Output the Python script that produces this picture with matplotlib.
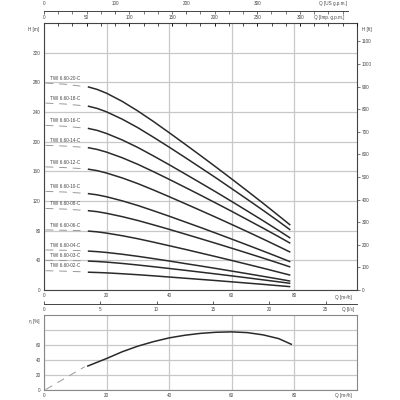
import matplotlib
matplotlib.use("Agg")
import matplotlib.pyplot as plt
from matplotlib.ticker import MultipleLocator, FixedLocator

plt.rcParams['font.family'] = ['Liberation Sans', 'DejaVu Sans']

# ---------------- data ----------------
q_pts = [14, 17, 20, 25, 30, 35, 40, 45, 50, 55, 60, 65, 70, 75, 78.7]
models = ["TWI 6.60-20-C", "TWI 6.60-18-C", "TWI 6.60-16-C", "TWI 6.60-14-C",
          "TWI 6.60-12-C", "TWI 6.60-10-C", "TWI 6.60-08-C", "TWI 6.60-06-C",
          "TWI 6.60-04-C", "TWI 6.60-03-C", "TWI 6.60-02-C"]
h_20 = [274, 270.4, 265.3, 254.3, 241.3, 227.1, 212.1, 196.8, 181.3, 165.6, 149.6, 133.4, 116.9, 100.1, 87.5]
h_18 = [248, 244.8, 240.2, 230.3, 218.8, 205.9, 192.6, 178.9, 165.0, 151.0, 136.6, 122.1, 107.4, 92.4, 81]
h_16 = [218, 215.2, 211, 202.3, 192.1, 180.7, 168.9, 156.7, 144.4, 132, 119.3, 106.4, 93.4, 80.1, 70]
h_14 = [192, 189.5, 185.9, 178.3, 169.4, 159.5, 149.2, 138.6, 127.9, 117, 106, 94.7, 83.4, 71.8, 63]
h_12 = [163, 160.9, 157.7, 151.1, 143.4, 134.8, 125.8, 116.6, 107.3, 97.9, 88.3, 78.6, 68.7, 58.6, 51]
h_10 = [130, 128.3, 125.7, 120.2, 113.9, 106.8, 99.5, 91.9, 84.3, 76.5, 68.6, 60.6, 52.5, 44.3, 38]
h_08 = [107, 105.6, 103.4, 98.9, 93.7, 87.8, 81.8, 75.5, 69.2, 62.8, 56.3, 49.7, 43, 36.2, 31]
h_06 = [79.5, 78.4, 76.7, 73.2, 69.1, 64.5, 59.7, 54.9, 49.9, 44.9, 39.8, 34.6, 29.4, 24, 20]
h_04 = [52.5, 51.7, 50.6, 48.2, 45.4, 42.3, 39.1, 35.7, 32.4, 29, 25.5, 22, 18.4, 14.8, 12]
h_03 = [39, 38.4, 37.6, 35.8, 33.7, 31.4, 29, 26.6, 24.1, 21.6, 19, 16.4, 13.7, 11, 9]
h_02 = [24, 23.6, 23.1, 21.9, 20.6, 19.1, 17.5, 15.9, 14.3, 12.7, 11, 9.3, 7.6, 5.8, 4.5]
h_curves = [h_20, h_18, h_16, h_14, h_12, h_10, h_08, h_06, h_04, h_03, h_02]
h_shutoff = [279, 252, 222, 195, 166, 133, 110, 81, 54, 40, 26]

eff_q = [14, 20, 25, 30, 35, 40, 45, 50, 55, 60, 65, 70, 75, 79]
eff_v = [32, 42, 51, 58.5, 64.5, 69.5, 73, 75.5, 77, 77.5, 76.5, 73.5, 68.5, 61]
eff_ext_q = [0.5, 13]
eff_ext_v = [0.5, 31]

x_ticks = [0, 20, 40, 60, 80]
h_ticks = [0, 40, 80, 120, 160, 200, 240, 280, 320]
ft_ticks = [0, 100, 200, 300, 400, 500, 600, 700, 800, 900, 1000, 1100]
us_ticks = [0, 100, 200, 300]
imp_ticks = [0, 50, 100, 150, 200, 250, 300]
ls_ticks = [0, 5, 10, 15, 20, 25]
eff_ticks = [0, 20, 40, 60, 80]
eff_labels = ["0", "20", "40", "60", ""]

# ---------------- style ----------------
FS = 3.3
TC = '#444444'
GRID = '#c8c8c8'
SP = '#444444'
CURVE = '#2a2a2a'

fig = plt.figure(figsize=(4, 4), dpi=100)
L, W = 44/400, (357-44)/400

def fy(px):
    return 1 - px/400

ax = fig.add_axes([L, fy(290), W, fy(23) - fy(290)])
ax.set_xlim(0, 100)
ax.set_ylim(0, 360)
ax.set_xticks(x_ticks)
ax.set_yticks(h_ticks)
ax.grid(True, color=GRID, lw=0.9)
ax.set_axisbelow(True)
ax.tick_params(axis='both', length=0, labelsize=FS, colors=TC, pad=2.5)
for s in ax.spines.values():
    s.set_color(SP)
    s.set_linewidth(0.8)

for name, h, h0 in zip(models, h_curves, h_shutoff):
    ax.plot(q_pts, h, color=CURVE, lw=1.1, solid_capstyle='butt',
            solid_joinstyle='round')
    ax.plot([0.5, 6.5, 12.5], [h0, h0 - 0.3*(h0 - h[0]), h[0] + 0.5],
            color='#999999', lw=0.7, ls=(0, (8, 6)))
    ax.text(1.8, h0 + 6.5, name, fontsize=FS, color=TC, ha='left', va='center')

# right axis (ft)
axr = ax.twinx()
axr.set_ylim(0, 360*3.28084)
axr.set_yticks(ft_ticks)
axr.tick_params(axis='y', length=2, width=0.5, direction='out', labelsize=FS,
                colors=TC, pad=1.2)
for s in axr.spines.values():
    s.set_visible(False)

# top axis (Imp gpm)
axt = ax.twiny()
axt.set_xlim(0, 100*3.666)
axt.set_xticks(imp_ticks)
axt.xaxis.set_minor_locator(MultipleLocator(20/1.2009))
axt.tick_params(axis='x', which='major', length=2.5, width=0.6, direction='in',
                labelsize=FS, colors=TC, pad=2.5)
axt.tick_params(axis='x', which='minor', length=1.8, width=0.5, direction='in')
for s in axt.spines.values():
    s.set_visible(False)

# US gpm axis
axu = fig.add_axes([L, fy(11), W, 0.0001])
axu.set_xlim(0, 100*4.403)
axu.set_ylim(0, 1)
axu.set_yticks([])
for k, s in axu.spines.items():
    s.set_visible(k == 'top')
axu.spines['top'].set_color(SP)
axu.spines['top'].set_linewidth(0.7)
axu.spines['top'].set_bounds(0, 428)
axu.xaxis.tick_top()
axu.set_xticks(us_ticks)
axu.xaxis.set_minor_locator(FixedLocator(list(range(0, 421, 20))))
axu.tick_params(axis='x', which='major', length=2.5, width=0.6, direction='in',
                labelsize=FS, colors=TC, pad=3.5)
axu.tick_params(axis='x', which='minor', length=1.8, width=0.5, direction='in',
                colors=SP)
axu.patch.set_visible(False)

# l/s axis
axl = fig.add_axes([L, fy(304), W, 0.0001])
axl.set_xlim(0, 100/3.6)
axl.set_ylim(0, 1)
axl.set_yticks([])
for k, s in axl.spines.items():
    s.set_visible(k == 'bottom')
axl.spines['bottom'].set_color(SP)
axl.spines['bottom'].set_linewidth(0.7)
axl.set_xticks(ls_ticks)
axl.tick_params(axis='x', length=2.5, width=0.6, direction='in',
                labelsize=FS, colors=TC, pad=2)
axl.patch.set_visible(False)

# efficiency axes
axe = fig.add_axes([L, fy(390), W, fy(315) - fy(390)])
axe.set_xlim(0, 100)
axe.set_ylim(0, 100)
axe.set_xticks(x_ticks)
axe.set_yticks(eff_ticks)
axe.set_yticklabels(eff_labels)
axe.grid(True, color=GRID, lw=0.9)
axe.set_axisbelow(True)
axe.tick_params(axis='both', length=0, labelsize=FS, colors=TC, pad=2.5)
for s in axe.spines.values():
    s.set_color('#888888')
    s.set_linewidth(0.8)
axe.plot(eff_q, eff_v, color=CURVE, lw=1.1, solid_joinstyle='round')
axe.plot(eff_ext_q, eff_ext_v, color='#999999', lw=0.7, ls=(0, (8, 6)))

# axis titles
def t(x, y, s, ha='center'):
    fig.text(x/400, fy(y), s, fontsize=FS, color=TC, ha=ha, va='center')

t(34, 29, 'H [m]')
t(367, 29, 'H [ft]')
t(333, 3.5, 'Q [US g.p.m.]')
t(329, 17, 'Q [Imp. g.p.m.]')
t(343, 297, 'Q [m³/h]')
t(348, 310, 'Q [l/s]')
t(34, 322, 'η [%]')
t(343, 396, 'Q [m³/h]')

fig.savefig('out.png', dpi=100)
